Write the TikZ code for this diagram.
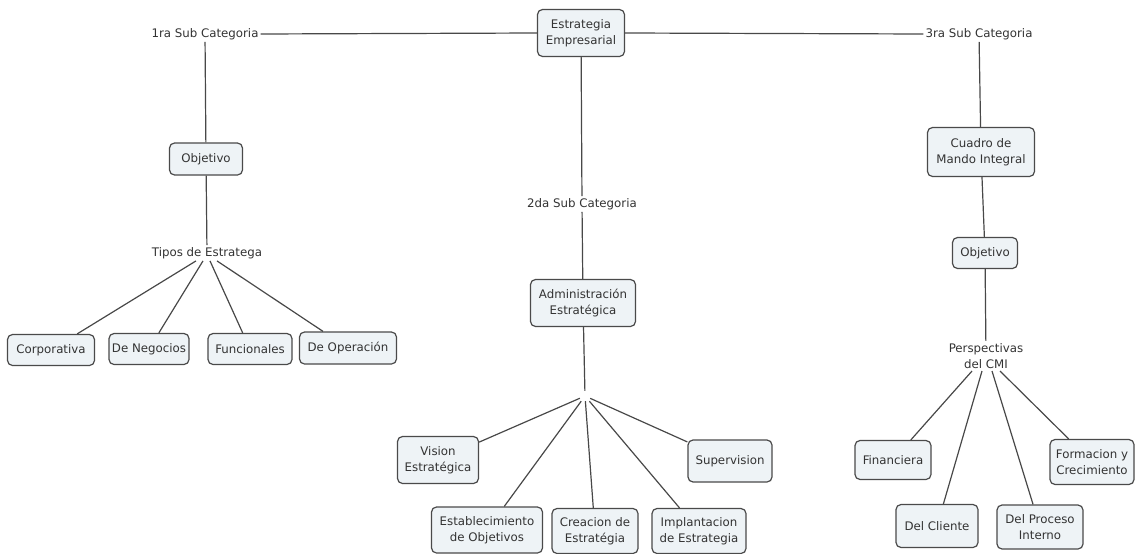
\documentclass[tikz,border=0pt]{standalone}
\usepackage{fontspec}
\setmainfont{DejaVu Sans}
\usetikzlibrary{calc}
\definecolor{txt}{HTML}{333333}
\definecolor{brd}{HTML}{4A4A4A}
\definecolor{bfill}{HTML}{EEF3F6}
\definecolor{ln}{HTML}{484848}
\begin{document}
\begin{tikzpicture}[x=1pt,y=-1pt,
  every node/.style={text=txt,font=\fontsize{11.8}{16.5}\selectfont,align=center},
  cbox/.style={draw=brd,line width=1.2pt,fill=bfill,rounded corners=5pt,inner sep=2pt},
  plain/.style={inner sep=2pt},
  conn/.style={draw=ln,line width=1.2pt}]
\useasboundingbox (0,0) rectangle (1135,554);
% top
\node[cbox,minimum width=87,minimum height=47] (est) at (581,33) {Estrategia\\Empresarial};
\node[plain] (s1) at (205,34) {1ra Sub Categoria};
\node[plain] (s3) at (979,34) {3ra Sub Categoria};
\node[plain] (s2) at (582,204) {2da Sub Categoria};
% left branch
\node[cbox,minimum width=73,minimum height=32] (obj1) at (206,159) {Objetivo};
\node[plain] (tipos) at (207,253) {Tipos de Estratega};
\node[cbox,minimum width=87,minimum height=31] (corp) at (51,350) {Corporativa};
\node[cbox,minimum width=80,minimum height=31] (neg) at (149,349) {De Negocios};
\node[cbox,minimum width=84,minimum height=31] (fun) at (250,349) {Funcionales};
\node[cbox,minimum width=97,minimum height=32] (ope) at (348,348) {De Operación};
% middle branch
\node[cbox,minimum width=105,minimum height=47] (adm) at (583,303) {Administración\\Estratégica};
\node[inner sep=5pt] (j) at (585,396) {};
\node[cbox,minimum width=81,minimum height=47] (vis) at (438,460) {Vision\\Estratégica};
\node[cbox,minimum width=84,minimum height=42] (sup) at (730,461) {Supervision};
\node[cbox,minimum width=111,minimum height=46] (esta) at (487,530) {Establecimiento\\de Objetivos};
\node[cbox,minimum width=86,minimum height=45] (crea) at (595,531) {Creacion de\\Estratégia};
\node[cbox,minimum width=94,minimum height=45] (impl) at (699,531) {Implantacion\\de Estrategia};
% right branch
\node[cbox,minimum width=107,minimum height=49] (cmi) at (981,152) {Cuadro de\\Mando Integral};
\node[cbox,minimum width=65,minimum height=31] (obj3) at (985,253) {Objetivo};
\node[plain] (persp) at (986,356) {Perspectivas\\del CMI};
\node[cbox,minimum width=76,minimum height=39] (fin) at (893,460) {Financiera};
\node[cbox,minimum width=82,minimum height=43] (cli) at (937,526) {Del Cliente};
\node[cbox,minimum width=86,minimum height=44] (proc) at (1040,527) {Del Proceso\\Interno};
\node[cbox,minimum width=84,minimum height=45] (form) at (1092,462) {Formacion y\\Crecimiento};
% connectors
\draw[conn] (s1.east) -- (est.west);
\draw[conn] (est.east) -- (s3.west);
\draw[conn] (est) -- (s2);
\draw[conn] (s1) -- (obj1);
\draw[conn] (obj1) -- (tipos);
\draw[conn] ($(tipos.south)+(-11,0)$) -- (corp);
\draw[conn] ($(tipos.south)+(-4,0)$) -- (neg);
\draw[conn] ($(tipos.south)+(3,0)$) -- (fun);
\draw[conn] ($(tipos.south)+(10,0)$) -- (ope);
\draw[conn] (s2) -- (adm);
\draw[conn] (adm) -- (j);
\draw[conn] (j) -- (vis);
\draw[conn] (j) -- (esta);
\draw[conn] (j) -- (crea);
\draw[conn] (j) -- (impl);
\draw[conn] (j) -- (sup);
\draw[conn] (s3) -- (cmi);
\draw[conn] (cmi) -- (obj3);
\draw[conn] (obj3) -- (persp);
\draw[conn] ($(persp.south)+(-14,0)$) -- (fin);
\draw[conn] ($(persp.south)+(-4,0)$) -- (cli);
\draw[conn] ($(persp.south)+(6,0)$) -- (proc);
\draw[conn] ($(persp.south)+(14,0)$) -- (form);
\end{tikzpicture}
\end{document}
